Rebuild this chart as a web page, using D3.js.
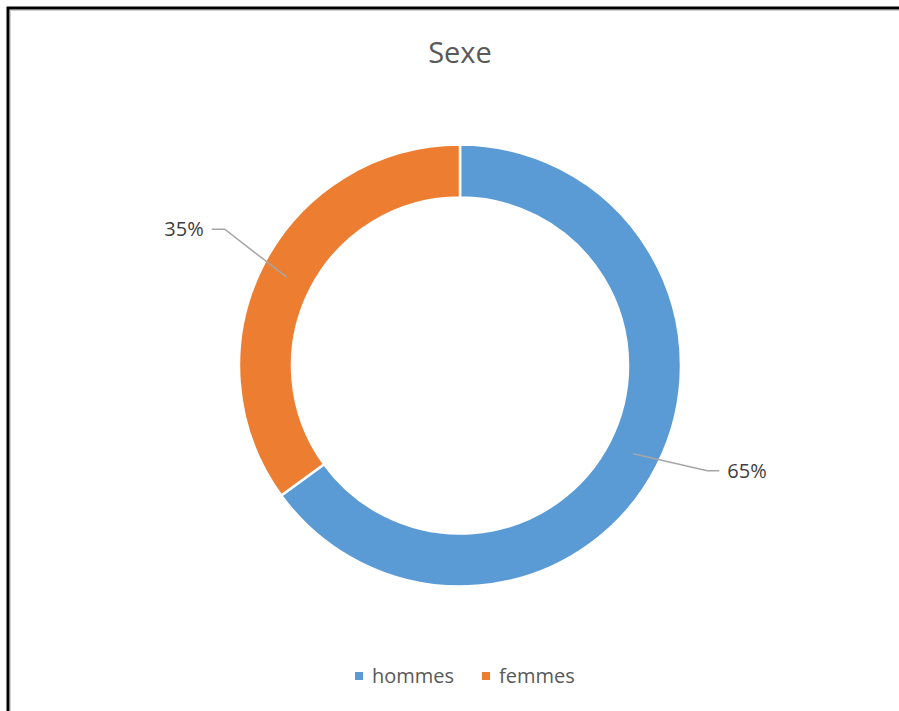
<!DOCTYPE html>
<html>
<head>
<meta charset="utf-8">
<script src="https://cdn.jsdelivr.net/npm/d3@7"></script>
<style>
  html, body { margin: 0; padding: 0; background: #fff; }
  svg { display: block; }
</style>
</head>
<body>
<svg id="chart" width="899" height="711"></svg>
<script>
// Chart data
const categories = ["hommes", "femmes"];
const values = [65, 35];
const colors = ["#5B9BD5", "#ED7D31"];
const title = "Sexe";

// Layout
const W = 899, H = 711;
const cx = 460, cy = 365.5;
const outerR = 221, innerR = 168;
// leader-line elbow offsets from each slice's ring midpoint, and label side
const labelLayout = [
  { dx: 74, dy: 17, tail: 12, side: 1 },
  { dx: -62, dy: -48, tail: -13, side: -1 }
];

const svg = d3.select("#chart");
const fontFamily = "'Open Sans', 'Noto Sans', sans-serif";

// Frame (top and left edges visible)
svg.append("rect")
  .attr("x", 10.5).attr("y", 10.5).attr("width", 1000).attr("height", 1000)
  .attr("fill", "none").attr("stroke", "#d0d0d0").attr("stroke-width", 1);
svg.append("rect")
  .attr("x", 8).attr("y", 8).attr("width", 1000).attr("height", 1000)
  .attr("fill", "none").attr("stroke", "#000").attr("stroke-width", 3);

// Title
svg.append("text")
  .attr("x", cx).attr("y", 63)
  .attr("text-anchor", "middle")
  .attr("font-family", fontFamily)
  .attr("font-size", 29)
  .attr("fill", "#595959")
  .text(title);

const data = categories.map((c, i) => ({ name: c, value: values[i], color: colors[i] }));
const pie = d3.pie().value(d => d.value).sort(null);
const arcs = pie(data);

const arc = d3.arc().innerRadius(innerR).outerRadius(outerR);
const midArc = d3.arc().innerRadius((innerR + outerR) / 2).outerRadius((innerR + outerR) / 2);

const g = svg.append("g").attr("transform", `translate(${cx},${cy})`);

g.selectAll("path.slice")
  .data(arcs)
  .join("path")
  .attr("class", "slice")
  .attr("d", arc)
  .attr("fill", d => d.data.color)
  .attr("stroke", "#fff")
  .attr("stroke-width", 2.5);

// Leader lines and percentage labels
const total = d3.sum(values);
const fmt = d3.format(".0%");
arcs.forEach((a, i) => {
  const [mx, my] = midArc.centroid(a);
  const L = labelLayout[i];
  const ex = mx + L.dx, ey = my + L.dy;
  const tx = ex + L.tail;
  g.append("polyline")
    .attr("points", `${mx},${my} ${ex},${ey} ${tx},${ey}`)
    .attr("fill", "none")
    .attr("stroke", "#A6A6A6")
    .attr("stroke-width", 1.5);
  g.append("text")
    .attr("x", tx + L.side * 8)
    .attr("y", ey)
    .attr("dy", "0.35em")
    .attr("text-anchor", L.side > 0 ? "start" : "end")
    .attr("font-family", fontFamily)
    .attr("font-size", 20)
    .attr("fill", "#404040")
    .text(fmt(a.data.value / total));
});

// Legend
const legendY = 676;
const legendItems = [
  { x: 355 },
  { x: 482 }
];
const lg = svg.append("g");
data.forEach((d, i) => {
  const item = lg.append("g").attr("transform", `translate(${legendItems[i].x},${legendY})`);
  item.append("rect")
    .attr("x", 0).attr("y", -4).attr("width", 8).attr("height", 8)
    .attr("fill", d.color);
  item.append("text")
    .attr("x", 17).attr("y", 0).attr("dy", "0.35em")
    .attr("font-family", fontFamily)
    .attr("font-size", 20)
    .attr("fill", "#595959")
    .text(d.name);
});
</script>
</body>
</html>
